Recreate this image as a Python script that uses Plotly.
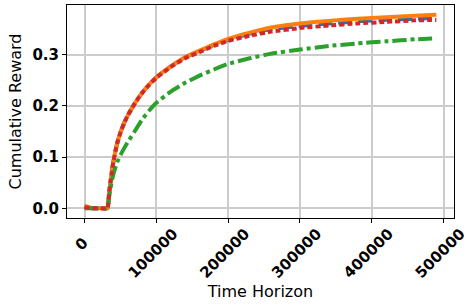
import plotly.graph_objects as go

time_steps = [0, 10000, 20000, 32000, 34000, 36000, 38000, 40000, 43000, 46000, 50000,
              55000, 60000, 70000, 80000, 90000, 100000, 120000, 140000, 160000, 180000,
              200000, 230000, 260000, 300000, 340000, 380000, 420000, 460000, 490000]

blue_reward = [0.003, 0.0, 0.0, 0.0, 0.028, 0.050, 0.072, 0.090, 0.112, 0.130, 0.148,
               0.166, 0.181, 0.205, 0.225, 0.242, 0.256, 0.277, 0.295, 0.307, 0.319,
               0.329, 0.341, 0.350, 0.356, 0.361, 0.365, 0.368, 0.370, 0.372]
orange_reward = [0.005, 0.0, 0.0, 0.0, 0.028, 0.050, 0.072, 0.090, 0.112, 0.130, 0.148,
                 0.166, 0.181, 0.205, 0.225, 0.242, 0.256, 0.277, 0.295, 0.308, 0.320,
                 0.331, 0.343, 0.353, 0.361, 0.366, 0.370, 0.373, 0.376, 0.378]
green_reward = [0.0, 0.0, 0.0, 0.0, 0.020, 0.038, 0.053, 0.066, 0.080, 0.092, 0.104,
                0.117, 0.129, 0.151, 0.173, 0.191, 0.206, 0.228, 0.245, 0.259, 0.271,
                0.282, 0.293, 0.302, 0.310, 0.317, 0.322, 0.326, 0.330, 0.332]
red_reward = [0.002, 0.0, 0.0, 0.0, 0.028, 0.050, 0.072, 0.090, 0.112, 0.130, 0.148,
              0.166, 0.181, 0.205, 0.225, 0.241, 0.255, 0.276, 0.293, 0.305, 0.317,
              0.327, 0.337, 0.345, 0.352, 0.357, 0.361, 0.364, 0.367, 0.368]

x_tick_vals = [0, 100000, 200000, 300000, 400000, 500000]
x_tick_text = ["", "100000", "200000", "300000", "400000", "500000"]
x_zero_tick = [0]
x_zero_text = ["0"]
y_tick_vals = [0.0, 0.1, 0.2, 0.3]
y_tick_text = ["0.0", "0.1", "0.2", "0.3"]
x_range = [-24500, 514500]

series = [
    (blue_reward, "#1f77b4", "14px,6px"),
    (orange_reward, "#ff7f0e", "solid"),
    (green_reward, "#2ca02c", "14px,4px,4px,4px"),
    (red_reward, "#d62728", "5px,3px"),
]

fig = go.Figure()
for vals, color, dash in series:
    fig.add_trace(go.Scatter(x=time_steps, y=vals, mode="lines",
                             line=dict(color=color, width=4, dash=dash, shape="spline", smoothing=0.3),
                             showlegend=False, cliponaxis=False))

tick_font = dict(family="DejaVu Sans", size=15, color="black", weight="bold")
title_font = dict(family="DejaVu Sans", size=16, color="black")
fig.update_layout(
    width=467, height=305,
    margin=dict(l=67, r=13, t=5, b=87, autoexpand=False),
    plot_bgcolor="white", paper_bgcolor="white",
    xaxis=dict(range=x_range, tickvals=x_tick_vals, ticktext=x_tick_text,
               tickangle=-45, ticklabelshift=17, ticklabelstandoff=-4, ticklabeloverflow="allow",
               ticks="outside", ticklen=4, tickcolor="black",
               showline=True, mirror=True, linecolor="black", linewidth=1,
               showgrid=True, gridcolor="#cccccc", gridwidth=1.5, zeroline=False,
               tickfont=tick_font, automargin=False,
               title=dict(text="Time Horizon", font=title_font, standoff=2)),
    xaxis2=dict(range=x_range, overlaying="x", anchor="y", side="bottom",
                tickvals=x_zero_tick, ticktext=x_zero_text,
                tickangle=-45, ticklabelshift=-1, ticklabelstandoff=5, ticklabeloverflow="allow",
                ticks="outside", ticklen=4, tickcolor="rgba(0,0,0,0)",
                showline=False, showgrid=False, zeroline=False,
                tickfont=tick_font, automargin=False),
    yaxis=dict(range=[-0.019, 0.397], tickvals=y_tick_vals, ticktext=y_tick_text,
               ticks="outside", ticklen=4, tickcolor="black",
               showline=True, mirror=True, linecolor="black", linewidth=1,
               showgrid=True, gridcolor="#cccccc", gridwidth=1.5, zeroline=False,
               tickfont=tick_font, automargin=False,
               title=dict(text="Cumulative Reward", font=title_font, standoff=6)),
)
fig.add_trace(go.Scatter(x=x_zero_tick, y=[None], xaxis="x2", yaxis="y", mode="lines",
                         showlegend=False, hoverinfo="skip"))

fig.write_html("out.html", config={"displayModeBar": False},
               post_script="document.body.style.margin='0';document.body.style.overflow='hidden';")
